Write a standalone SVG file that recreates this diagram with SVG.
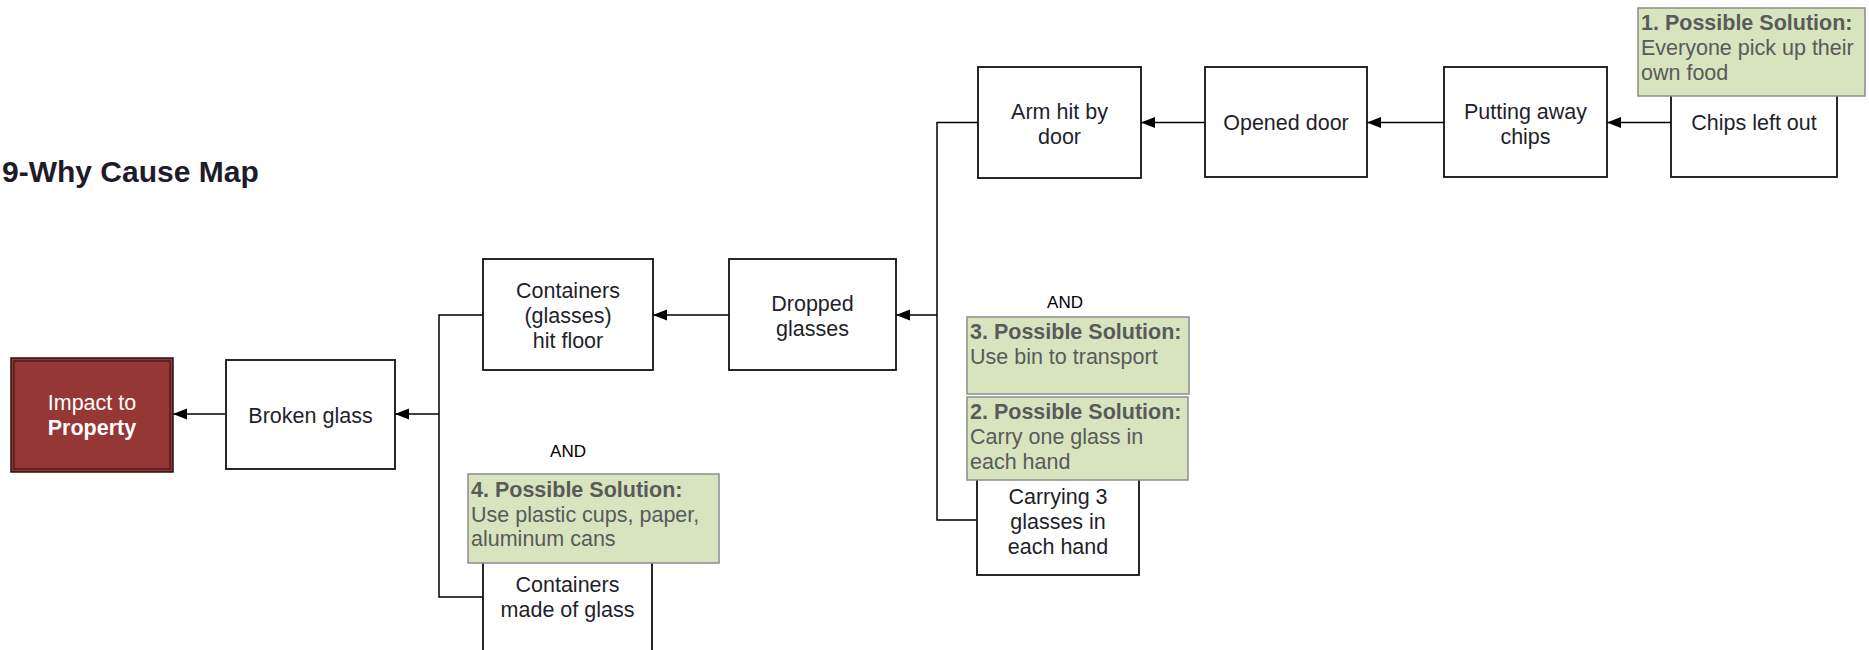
<svg xmlns="http://www.w3.org/2000/svg" width="1869" height="650" viewBox="0 0 1869 650">
<defs>
<marker id="arr" markerUnits="userSpaceOnUse" markerWidth="15" markerHeight="12" refX="14" refY="6" orient="auto">
<path d="M0,0.5 L14,6 L0,11.5 z" fill="#000"/>
</marker>
<style>
.node{fill:#fff;stroke:#111;stroke-width:1.8}
.t{font-family:"Liberation Sans",Arial,sans-serif;font-size:21.5px;fill:#1f1f2c;text-anchor:middle}
.sol{fill:#d7e4bd;stroke:#8c8c8c;stroke-width:1.5}
.st{font-family:"Liberation Sans",Arial,sans-serif;font-size:21.5px;fill:#5a5a5a}
.sb{font-weight:bold}
.c{fill:none;stroke:#000;stroke-width:1.5}
.and{font-family:"Liberation Sans",Arial,sans-serif;font-size:17px;fill:#000;text-anchor:middle}
</style>
</defs>
<rect width="1869" height="650" fill="#fff"/>
<text x="2" y="182" font-family="'Liberation Sans',Arial,sans-serif" font-size="30" font-weight="bold" fill="#1f1b2b">9-Why Cause Map</text>

<g id="connectors">
<line class="c" x1="225" y1="414" x2="173" y2="414" marker-end="url(#arr)"/>
<polyline class="c" points="483,315 439,315 439,597 483,597"/>
<line class="c" x1="439" y1="414" x2="395" y2="414" marker-end="url(#arr)"/>
<line class="c" x1="729" y1="315" x2="653" y2="315" marker-end="url(#arr)"/>
<polyline class="c" points="978,122.5 937,122.5 937,520 977,520"/>
<line class="c" x1="937" y1="315" x2="896" y2="315" marker-end="url(#arr)"/>
<line class="c" x1="1205" y1="122.5" x2="1141" y2="122.5" marker-end="url(#arr)"/>
<line class="c" x1="1444" y1="122.5" x2="1367" y2="122.5" marker-end="url(#arr)"/>
<line class="c" x1="1671" y1="122.5" x2="1607" y2="122.5" marker-end="url(#arr)"/>
</g>

<g id="impact">
<rect x="11" y="358" width="162" height="114" fill="#953735" stroke="#2a1010" stroke-width="1.5"/>
<rect x="14" y="361" width="156" height="108" fill="none" stroke="#2a1010" stroke-width="1"/>
<text class="t" x="92" y="410" style="fill:#fff">Impact to</text>
<text class="t" x="92" y="435" style="fill:#fff;font-weight:bold">Property</text>
</g>

<g id="broken-glass">
<rect class="node" x="226" y="360" width="169" height="109"/>
<text class="t" x="310.5" y="423">Broken glass</text>
</g>

<g id="containers-hit-floor">
<rect class="node" x="483" y="259" width="170" height="111"/>
<text class="t" x="568" y="298">Containers</text>
<text class="t" x="568" y="323">(glasses)</text>
<text class="t" x="568" y="348">hit floor</text>
</g>

<g id="containers-glass">
<rect class="node" x="483" y="542" width="169" height="111"/>
<text class="t" x="567.5" y="592">Containers</text>
<text class="t" x="567.5" y="617">made of glass</text>
</g>

<g id="dropped-glasses">
<rect class="node" x="729" y="259" width="167" height="111"/>
<text class="t" x="812.5" y="311">Dropped</text>
<text class="t" x="812.5" y="336">glasses</text>
</g>

<g id="arm-hit">
<rect class="node" x="978" y="67" width="163" height="111"/>
<text class="t" x="1059.5" y="119">Arm hit by</text>
<text class="t" x="1059.5" y="144">door</text>
</g>

<g id="carrying">
<rect class="node" x="977" y="464" width="162" height="111"/>
<text class="t" x="1058" y="504">Carrying 3</text>
<text class="t" x="1058" y="529">glasses in</text>
<text class="t" x="1058" y="554">each hand</text>
</g>

<g id="opened-door">
<rect class="node" x="1205" y="67" width="162" height="110"/>
<text class="t" x="1286" y="130">Opened door</text>
</g>

<g id="putting-away">
<rect class="node" x="1444" y="67" width="163" height="110"/>
<text class="t" x="1525.5" y="119">Putting away</text>
<text class="t" x="1525.5" y="144">chips</text>
</g>

<g id="chips-left-out">
<rect class="node" x="1671" y="67" width="166" height="110"/>
<text class="t" x="1754" y="130">Chips left out</text>
</g>

<g id="and-1">
<text class="and" x="568" y="457">AND</text>
</g>
<g id="and-2">
<text class="and" x="1065" y="308">AND</text>
</g>

<g id="solution-1">
<rect class="sol" x="1638" y="8" width="227" height="88"/>
<text class="st" x="1641" y="30"><tspan class="sb">1. Possible Solution:</tspan><tspan x="1641" dy="25">Everyone pick up their</tspan><tspan x="1641" dy="24.5">own food</tspan></text>
</g>

<g id="solution-3">
<rect class="sol" x="967" y="317" width="222" height="77"/>
<text class="st" x="970" y="339"><tspan class="sb">3. Possible Solution:</tspan><tspan x="970" dy="25">Use bin to transport</tspan></text>
</g>

<g id="solution-2">
<rect class="sol" x="967" y="397" width="221" height="83"/>
<text class="st" x="970" y="419"><tspan class="sb">2. Possible Solution:</tspan><tspan x="970" dy="25">Carry one glass in</tspan><tspan x="970" dy="25">each hand</tspan></text>
</g>

<g id="solution-4">
<rect class="sol" x="468" y="474" width="251" height="89"/>
<text class="st" x="471" y="497"><tspan class="sb">4. Possible Solution:</tspan><tspan x="471" dy="25">Use plastic cups, paper,</tspan><tspan x="471" dy="24">aluminum cans</tspan></text>
</g>
</svg>
